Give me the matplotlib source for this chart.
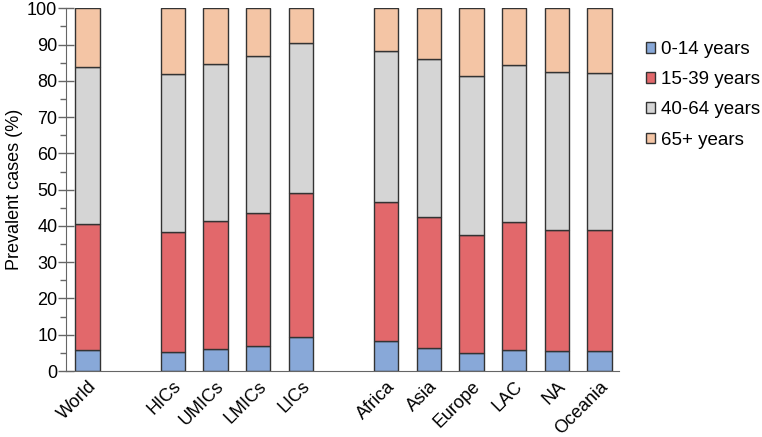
import numpy as np
import matplotlib.pyplot as plt
from matplotlib.ticker import MultipleLocator

plt.rcParams['font.family'] = ['Liberation Sans', 'DejaVu Sans']

# Groupes et positions (espaces entre World / revenus / régions)
groups = ['World', 'HICs', 'UMICs', 'LMICs', 'LICs',
          'Africa', 'Asia', 'Europe', 'LAC', 'NA', 'Oceania']
positions = [0, 2, 3, 4, 5, 7, 8, 9, 10, 11, 12]

age_labels = ['0-14 years', '15-39 years', '40-64 years', '65+ years']

# Parts (%) de chaque tranche d'âge
age_0_14 = [5.9, 5.3, 6.1, 6.9, 9.3, 8.3, 6.4, 5.1, 5.9, 5.5, 5.5]
age_15_39 = [34.6, 32.9, 35.2, 36.6, 39.7, 38.3, 36.0, 32.3, 35.2, 33.3, 33.4]
age_40_64 = [43.4, 43.7, 43.4, 43.3, 41.4, 41.6, 43.6, 43.8, 43.4, 43.6, 43.4]
age_65 = [16.1, 18.1, 15.3, 13.2, 9.6, 11.8, 14.0, 18.8, 15.5, 17.6, 17.7]

colors = ['#88A8D8', '#E2686B', '#D5D5D5', '#F4C5A5']

fig = plt.figure(figsize=(7.62, 4.37), dpi=100)
ax = fig.add_axes([0.087, 0.151, 0.725, 0.830])

bottom = np.zeros(len(groups))
for values, label, color in zip([age_0_14, age_15_39, age_40_64, age_65], age_labels, colors):
    ax.bar(positions, values, width=0.57, bottom=bottom, color=color,
           edgecolor='#333333', linewidth=1, label=label)
    bottom += np.array(values)

ax.set_xlim(-0.5, 12.45)
ax.set_ylim(0, 100)
ax.set_xticks(positions)
ax.set_xticklabels(groups, rotation=45, ha='right', rotation_mode='anchor', fontsize=13)
ax.tick_params(axis='x', length=0, pad=5)

ax.yaxis.set_major_locator(MultipleLocator(10))
ax.yaxis.set_minor_locator(MultipleLocator(5))
ax.tick_params(axis='y', which='major', direction='inout', length=11, width=1,
               color='#666666', labelsize=13, pad=1)
ax.tick_params(axis='y', which='minor', direction='out', length=4, width=1, color='#666666')
ax.set_ylabel('Prevalent cases (%)', fontsize=13, labelpad=3)

ax.spines['top'].set_visible(False)
ax.spines['right'].set_visible(False)
ax.spines['left'].set_color('#666666')
ax.spines['bottom'].set_color('#666666')

ax.legend(loc='upper left', bbox_to_anchor=(1.035, 0.93), frameon=False, fontsize=13.5,
          handlelength=0.5, handleheight=0.5, handletextpad=0.3, labelspacing=0.7,
          borderaxespad=0)

plt.savefig('out.png', dpi=100)
